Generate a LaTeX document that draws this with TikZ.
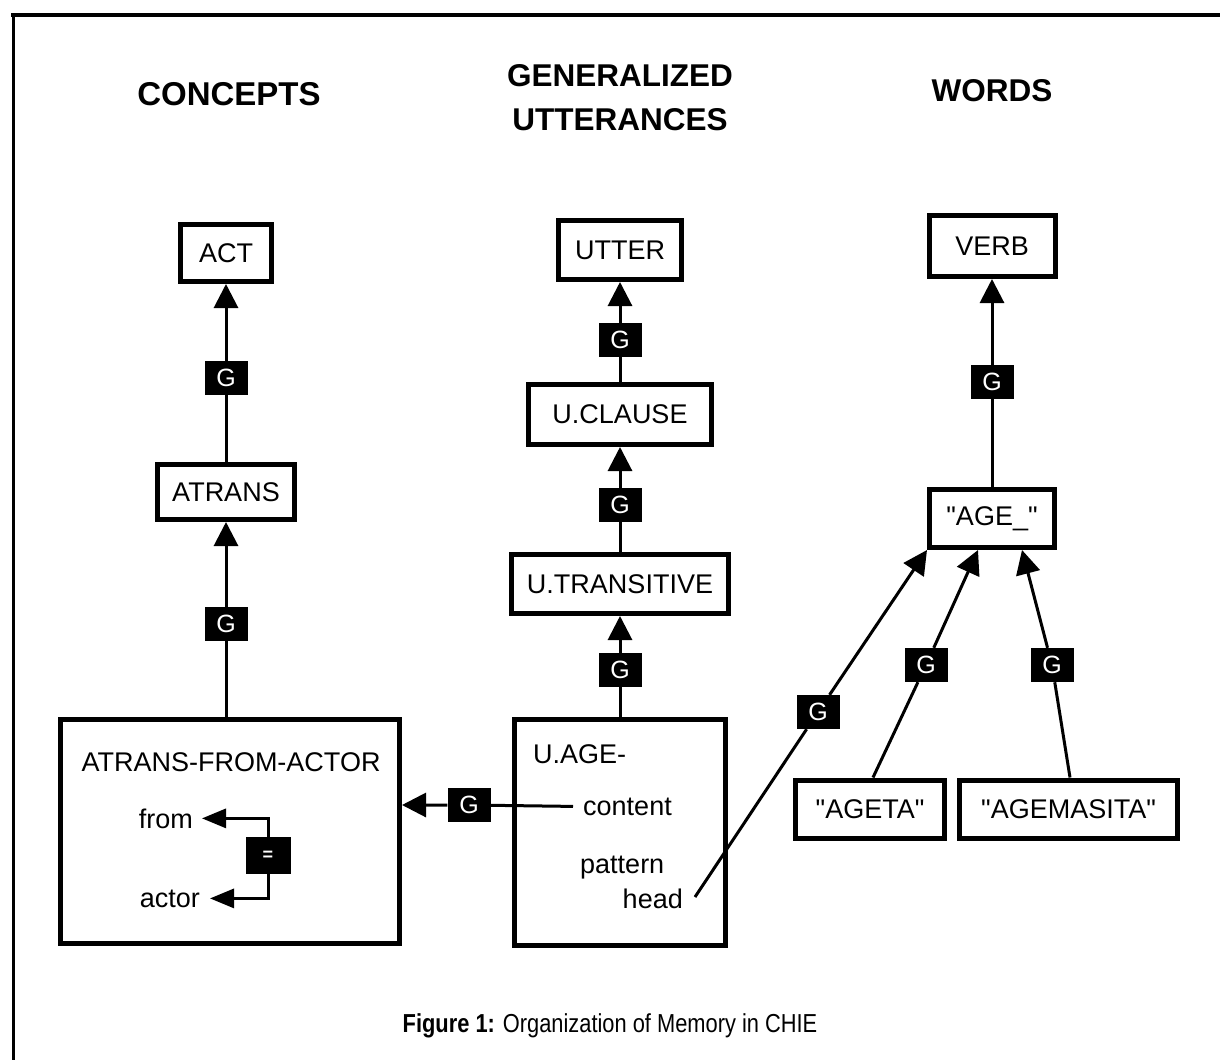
\documentclass[tikz,border=0pt]{standalone}
\usepackage{fontspec}
\setmainfont{Liberation Sans}
\newfontfamily\qfont{Liberation Sans}
\newfontfamily\capfont[FakeStretch=0.84]{Liberation Sans}
\usetikzlibrary{arrows.meta}

\tikzset{
  box/.style={draw, line width=5pt, fill=white, inner sep=0pt,
    font=\fontsize{27}{32}\selectfont},
  wordbox/.style={box, font=\qfont\fontsize{27}{32}\selectfont},
  lbl/.style={inner sep=0pt, font=\fontsize{27}{32}\selectfont},
  heading/.style={inner sep=0pt, align=center, font=\fontsize{31.5}{44}\selectfont\bfseries},
  gbox/.style={fill=black, text=white, minimum width=43pt, minimum height=34pt,
    inner sep=0pt, font=\fontsize{25}{28}\selectfont},
  eqbox/.style={fill=black, text=white, minimum width=45pt, minimum height=37pt,
    inner sep=0pt, font=\fontsize{18}{20}\selectfont\bfseries},
  genl/.style={line width=3pt, -{Triangle[length=24pt,width=24pt]}},
  inarrow/.style={line width=3pt, -{Triangle[length=24pt,width=19pt]}},
}

\begin{document}
\begin{tikzpicture}[x=1pt,y=-1pt]
\useasboundingbox (0,0) rectangle (1220,1060);

% frame
\draw[line width=4pt] (11,15) -- (1220,15);
\draw[line width=3pt] (13,13.5) -- (13,1060);

% column headings
\node[heading, font=\fontsize{33}{44}\selectfont\bfseries] (hconcepts) at (229,94) {CONCEPTS};
\node[heading] (hutter) at (620,98) {GENERALIZED\\UTTERANCES};
\node[heading] (hwords) at (992,91) {WORDS};

% concept hierarchy
\node[box, minimum width=91pt, minimum height=57pt] (act) at (226,253) {ACT};
\node[box, minimum width=137pt, minimum height=55pt] (atrans) at (226,492) {ATRANS};
\node[box, minimum width=339pt, minimum height=224pt] (afa) at (230,831.5) {};
\node[gbox] (g1) at (226,378) {G};
\node[gbox] (g2) at (226,624) {G};

% utterance hierarchy
\node[box, minimum width=123pt, minimum height=59pt] (utter) at (620,250) {UTTER};
\node[box, minimum width=183pt, minimum height=60pt] (uclause) at (620,414.5) {U.CLAUSE};
\node[box, minimum width=217pt, minimum height=59pt] (utrans) at (620,584) {U.TRANSITIVE};
\node[box, minimum width=211pt, minimum height=226pt] (uage) at (620,832.5) {};
\node[gbox] (g3) at (620,340) {G};
\node[gbox] (g4) at (620,505) {G};
\node[gbox] (g5) at (620,670) {G};

% word hierarchy
\node[box, minimum width=126pt, minimum height=61pt] (verb) at (992,246) {VERB};
\node[wordbox, minimum width=125pt, minimum height=58pt] (age) at (992,518.5) {"AGE\_"};
\node[wordbox, minimum width=149pt, minimum height=58pt] (ageta) at (870,809) {"AGETA"};
\node[wordbox, minimum width=218pt, minimum height=58pt] (agemasita) at (1068.5,809) {"AGEMASITA"};
\node[gbox] (g6) at (992,382) {G};
\node[gbox] (g7) at (818,712) {G};
\node[gbox] (g8) at (926,665) {G};
\node[gbox] (g9) at (1052,665) {G};
\node[gbox] (g10) at (469,805) {G};

% contents of ATRANS-FROM-ACTOR
\node[lbl, anchor=base] (afatitle) at (231,771) {ATRANS-FROM-ACTOR};
\node[lbl, anchor=base east] (from) at (193,828) {from};
\node[lbl, anchor=base east] (actor) at (200,907) {actor};
\node[eqbox] (eq) at (268,855.5) {=};

% contents of U.AGE-
\node[lbl, anchor=base west] (uagetitle) at (533,763) {U.AGE-};
\node[lbl, anchor=base west] (content) at (583,815) {content};
\node[lbl, anchor=base west] (pattern) at (580,873) {pattern};
\node[lbl, anchor=base east] (head) at (683,908) {head};
\coordinate (hs) at (695,897);

% generalization links
\draw[genl] (atrans) -- (g1) -- (act);
\draw[genl] (g2 |- afa.north) -- (g2) -- (atrans);
\draw[genl] (uclause) -- (g3) -- (utter);
\draw[genl] (utrans) -- (g4) -- (uclause);
\draw[genl] (uage) -- (g5) -- (utrans);
\draw[genl] (age) -- (g6) -- (verb);
\draw[genl] (hs) -- (g7) -- (age.south west);
\draw[genl] ([xshift=3pt]ageta.north) -- (g8) -- ([xshift=-14pt]age.south);
\draw[genl] ([xshift=1.5pt]agemasita.north) -- (g9) -- ([xshift=30pt]age.south);
\draw[genl] ([xshift=-10pt]content.west) -- (g10) -- (g10 -| afa.east);

% role equality
\draw[inarrow] (eq.north) |- ([xshift=9pt]from.east);
\draw[inarrow] (eq.south) |- ([xshift=10pt]actor.east);

% caption
\node[inner sep=0pt, font=\capfont\fontsize{26}{30}\selectfont] (caption) at (610,1026)
  {\textbf{Figure 1:}\hspace{8pt}Organization of Memory in CHIE};
\end{tikzpicture}
\end{document}
